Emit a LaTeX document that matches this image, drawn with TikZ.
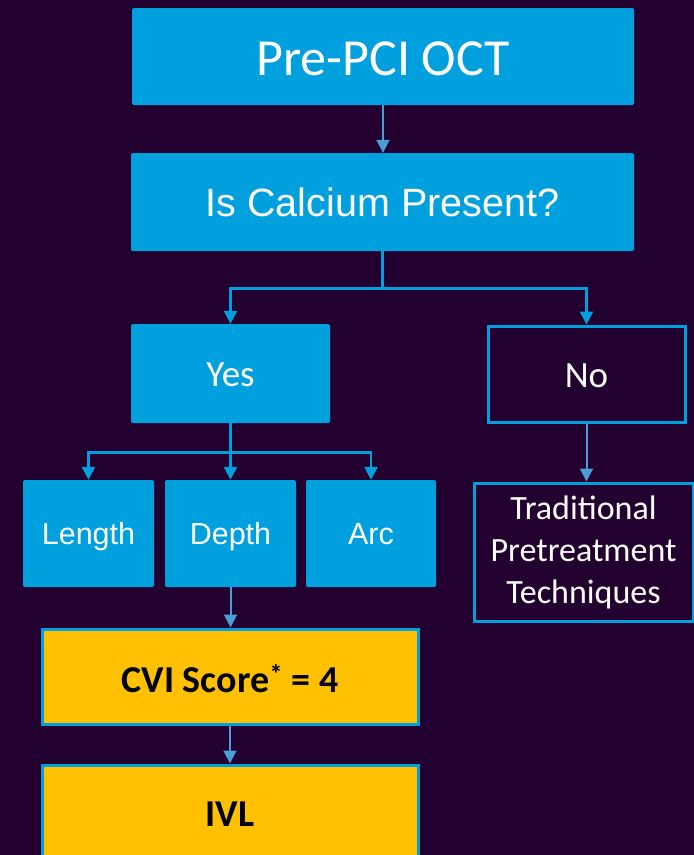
\documentclass[tikz,border=0pt]{standalone}
\usepackage{fontspec}
\setmainfont{Liberation Sans}
\newfontfamily\calibri{Carlito}
\usepackage{xcolor}
\usepackage{tikz}
\usetikzlibrary{arrows.meta,positioning,calc}
\definecolor{cBack}{HTML}{22002F}
\definecolor{cCyan}{HTML}{00A0DF}
\definecolor{cArrow}{HTML}{4A9ED6}
\definecolor{cGold}{HTML}{FFC000}
\newcommand{\fsz}[1]{\fontsize{#1}{1.24\dimexpr#1pt\relax}\selectfont}
\tikzset{
  fbox/.style={fill=cCyan,draw=none,rounded corners=1.5pt,align=center,text=white,inner sep=0pt,text height=22.8pt,text depth=0pt},
  obox/.style={draw=cCyan,fill=cBack,line width=3pt,align=center,text=white,inner sep=0pt,font=\calibri},
  gbox/.style={draw=cCyan,fill=cGold,line width=3pt,align=center,text=black,inner sep=0pt,font=\calibri\bfseries\fsz{38},text depth=0pt},
  arr/.style={-{Triangle[length=13pt,width=13pt]},line width=2pt,color=cArrow},
  barr/.style={-{Triangle[length=13pt,width=13pt]},line width=2.7pt,color=cCyan},
  bline/.style={line width=2.7pt,color=cCyan},
}

\begin{document}
\begin{tikzpicture}[x=1pt,y=-1pt]
  \clip (0,0) rectangle (694,855);
  \fill[cBack] (0,0) rectangle (694,855);
  % top of the tree
  \node[fbox,minimum width=502pt,minimum height=97pt,font=\calibri\fsz{52},text height=37.5pt] (pre) at (383,56.5) {Pre-PCI OCT};
  \node[fbox,minimum width=503pt,minimum height=98pt,font=\fsz{39.5},text height=29.3pt] (calc) at (382.5,202) {Is Calcium Present?};
  \node[fbox,minimum width=199pt,minimum height=99pt,font=\calibri\fsz{37},text height=25.8pt] (yes) at (230.5,373.5) {Yes};
  \node[obox,minimum width=197pt,minimum height=96pt,font=\calibri\fsz{37},text height=26.8pt,text depth=0pt] (no) at (586.5,374) {No};
  % calcium properties
  \node[fbox,minimum width=131pt,minimum height=107pt,font=\fsz{30.5}] (len) at (88.5,533.5)  {Length};
  \node[fbox,minimum width=131pt,minimum height=107pt,font=\fsz{30.5}] (dep) at (230.5,533.5) {Depth};
  \node[fbox,minimum width=130pt,minimum height=107pt,font=\fsz{30.5}] (arc) at (371,533.5)   {Arc};
  \node[obox,minimum width=219pt,minimum height=138pt,font=\calibri\fontsize{34}{42}\selectfont] (trad) at (583.5,552)
    {Traditional\\Pretreatment\\Techniques};
  % outcome
  \node[gbox,minimum width=376pt,minimum height=95pt,text height=31.5pt] (cvi) at (230,676.5) {CVI Score\textsuperscript{*} = 4};
  \node[gbox,minimum width=376pt,minimum height=100pt,text height=23.5pt] (ivl) at (230,815) {IVL};
  % connectors
  \draw[arr] (pre.south) -- (pre.south |- calc.north);
  \draw[bline] (calc.south) -- ++(0,37) coordinate (split);
  \draw[barr] (split) -| (yes.north);
  \draw[barr] (split) -| (no.north);
  \draw[bline] (yes.south) -- ++(0,29) coordinate (fork);
  \draw[barr] (fork) -| (len.north);
  \draw[barr] (fork) -- (fork |- dep.north);
  \draw[barr] (fork) -| (arc.north);
  \draw[arr] (no.south) -- (no.south |- trad.north);
  \draw[arr] (dep.south) -- (dep.south |- cvi.north);
  \draw[arr] (cvi.south) -- (cvi.south |- ivl.north);
\end{tikzpicture}
\end{document}
